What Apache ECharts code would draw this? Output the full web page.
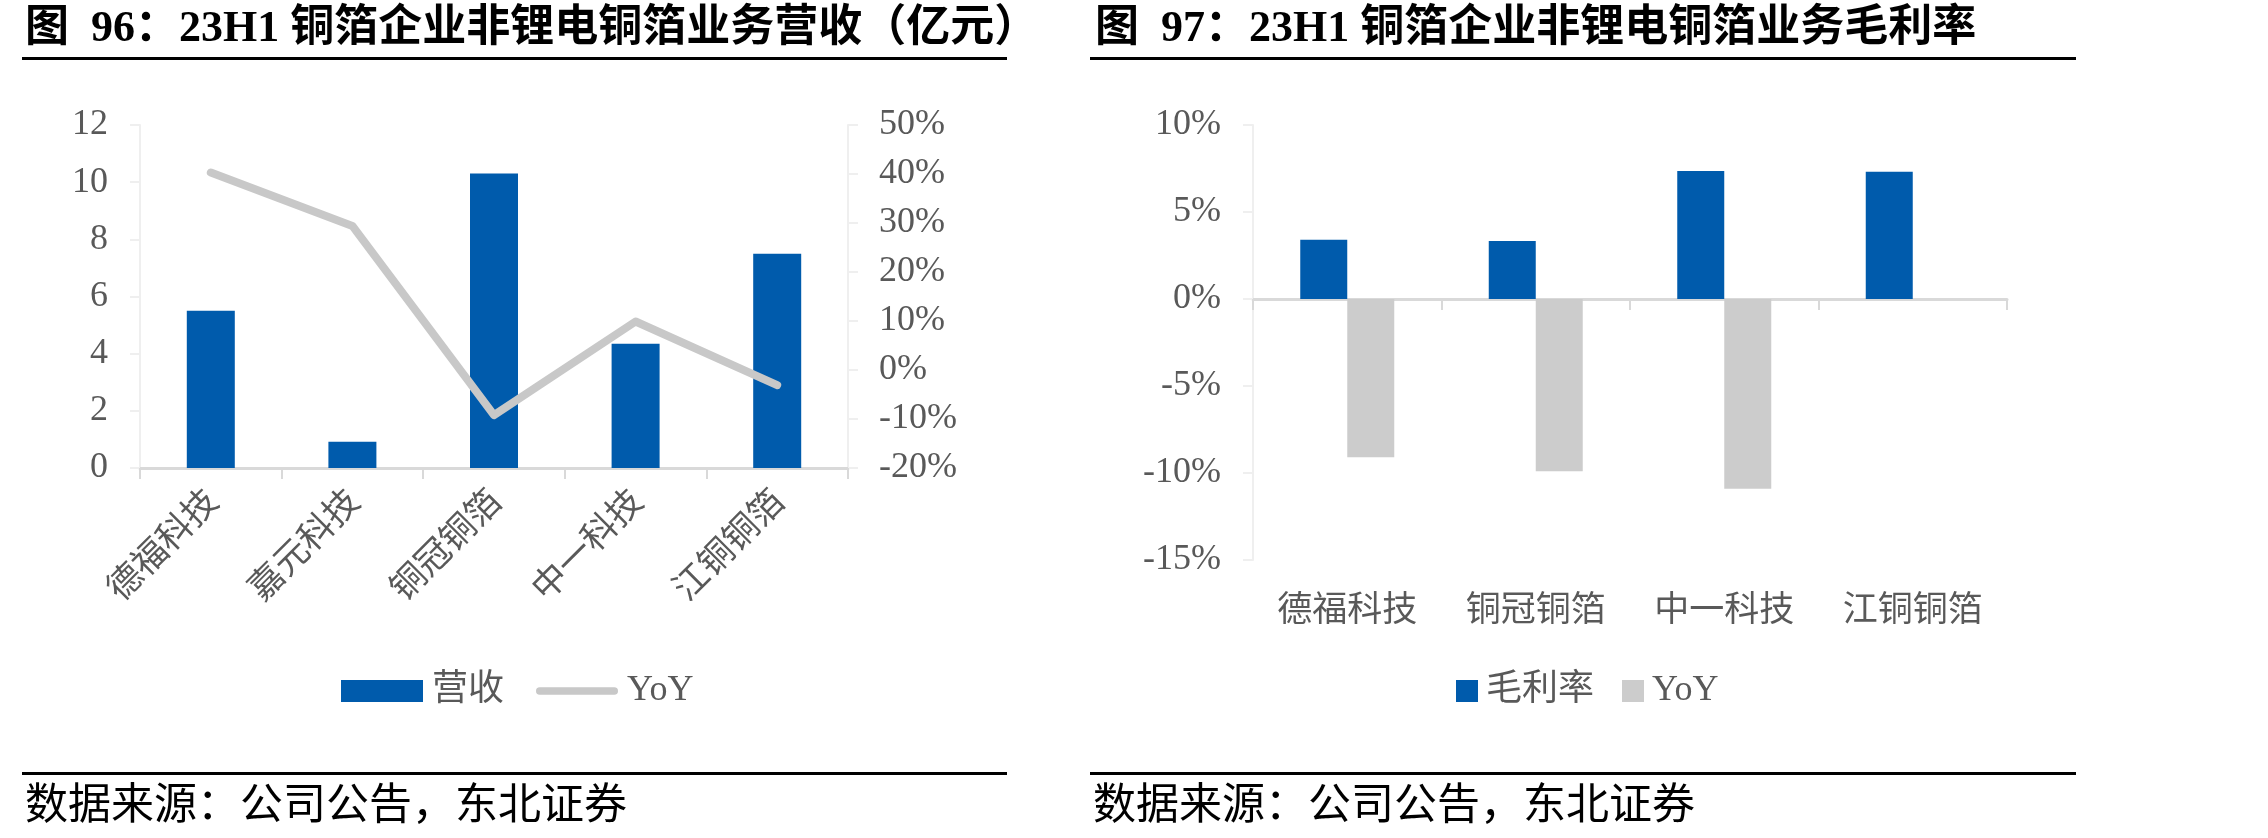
<!DOCTYPE html>
<html>
<head>
<meta charset="utf-8">
<script src="https://cdn.jsdelivr.net/npm/echarts@6/dist/echarts.min.js"></script>
<style>
  html, body { margin: 0; padding: 0; background: #fff; }
  #main { width: 2268px; height: 838px; }
</style>
</head>
<body>
<div id="main"></div>
<script>
// Fig 96: non-lithium copper foil revenue (亿元) + YoY (%)
const revCompanies = ['德福科技', '嘉元科技', '铜冠铜箔', '中一科技', '江铜铜箔'];
const revenue = [5.5, 0.92, 10.3, 4.35, 7.5];
const revenueYoY = [40.3, 29.4, -9.2, 9.9, -3.1];

// Fig 97: non-lithium copper foil gross margin (%) + YoY (pct)
const marginCompanies = ['德福科技', '铜冠铜箔', '中一科技', '江铜铜箔'];
const grossMargin = [3.4, 3.33, 7.36, 7.32];
const grossMarginYoY = [-9.1, -9.9, -10.9, null];

const titles = ['图  96：23H1 铜箔企业非锂电铜箔业务营收（亿元）', '图  97：23H1 铜箔企业非锂电铜箔业务毛利率'];
const sourceText = '数据来源：公司公告，东北证券';

const BLUE = '#005bac';
const GREY = '#cccccc';
const LABEL = '#595959';
const FONT = '"Liberation Serif", "Noto Sans CJK SC"';
const CJK = '"Noto Sans CJK SC"';

const chart = echarts.init(document.getElementById('main'), null, { renderer: 'canvas' });

const valueAxis = (gridIndex, min, max, interval, opts) => ({
  type: 'value', gridIndex, min, max, interval,
  axisLine: { show: true, lineStyle: { color: '#efefef', width: 2 } },
  axisTick: { show: true, length: 10, lineStyle: { color: '#efefef', width: 2 } },
  splitLine: { show: false },
  axisLabel: { color: LABEL, fontSize: 36, fontFamily: FONT, margin: 32 },
  ...opts,
});

const baseLine = { show: true, lineStyle: { color: '#d9d9d9', width: 3 } };
const baseTick = { show: true, length: 11, lineStyle: { color: '#d9d9d9', width: 2 } };

// rounded gray stroke for the line legend icon
const lineIcon = 'path://M4,0H84A4,4,0,0,1,84,8H4A4,4,0,0,1,4,0Z';

// titles, rules and sources drawn as plain graphics
const panels = [{ x0: 22, x1: 1007, tx: 25 }, { x0: 1090, x1: 2076, tx: 1095 }];
const graphic = [];
panels.forEach((p, i) => {
  graphic.push(
    { type: 'text', left: p.tx, top: 8,
      style: { text: titles[i], font: `bold 44px ${FONT}`, fill: '#000' } },
    { type: 'rect', shape: { x: p.x0, y: 57, width: p.x1 - p.x0, height: 3 }, style: { fill: '#000' } },
    { type: 'rect', shape: { x: p.x0, y: 772, width: p.x1 - p.x0, height: 3 }, style: { fill: '#000' } },
    { type: 'text', left: p.x0 + 3, top: 781,
      style: { text: sourceText, font: `43px ${CJK}`, fill: '#000' } },
  );
});

chart.setOption({
  animation: false,
  backgroundColor: '#fff',
  graphic,
  grid: [
    { left: 140, top: 125, width: 708, height: 343 },
    { left: 1253, top: 125, width: 754, height: 435 },
  ],
  legend: [
    {
      left: 341, top: 673, padding: 0, itemWidth: 82, itemHeight: 22, itemGap: 32,
      textStyle: { color: LABEL, fontSize: 36, fontFamily: FONT, padding: [0, 0, 0, 4] },
      data: [{ name: '营收', icon: 'rect' }, { name: 'YoY', icon: lineIcon, itemStyle: { borderWidth: 0 } }],
    },
    {
      left: 1456, top: 673, padding: 0, itemWidth: 22, itemHeight: 22, itemGap: 28,
      textStyle: { color: LABEL, fontSize: 36, fontFamily: FONT, padding: [0, 0, 0, 3] },
      formatter: (n) => n.trim(),
      data: [{ name: '毛利率', icon: 'rect' }, { name: 'YoY ', icon: 'rect' }],
    },
  ],
  xAxis: [
    {
      type: 'category', gridIndex: 0, data: revCompanies,
      axisLine: baseLine, axisTick: baseTick,
      axisLabel: { color: LABEL, fontSize: 35, fontFamily: CJK, rotate: 45, margin: 26 },
    },
    {
      type: 'category', gridIndex: 1, data: marginCompanies,
      axisLine: { ...baseLine, onZero: true }, axisTick: baseTick,
      axisLabel: { show: false },
    },
    {
      type: 'category', gridIndex: 1, data: marginCompanies, position: 'bottom',
      axisLine: { show: false, onZero: false }, axisTick: { show: false },
      axisLabel: { color: LABEL, fontSize: 35, fontFamily: CJK, margin: 30 },
    },
  ],
  yAxis: [
    valueAxis(0, 0, 12, 2),
    valueAxis(0, -20, 50, 10, { position: 'right',
      axisLabel: { color: LABEL, fontSize: 36, fontFamily: FONT, margin: 31, formatter: '{value}%' } }),
    valueAxis(1, -15, 10, 5, {
      axisLabel: { color: LABEL, fontSize: 36, fontFamily: FONT, margin: 32, formatter: '{value}%' } }),
  ],
  series: [
    {
      name: '营收', type: 'bar', xAxisIndex: 0, yAxisIndex: 0,
      barWidth: 48, itemStyle: { color: BLUE }, data: revenue,
    },
    {
      name: 'YoY', type: 'line', xAxisIndex: 0, yAxisIndex: 1,
      showSymbol: false, symbol: 'none', color: '#c8c8c8',
      lineStyle: { color: '#c8c8c8', width: 8, cap: 'round', join: 'round' },
      data: revenueYoY,
    },
    {
      name: '毛利率', type: 'bar', xAxisIndex: 1, yAxisIndex: 2,
      barWidth: 47, barGap: '0%', itemStyle: { color: BLUE }, data: grossMargin,
    },
    {
      name: 'YoY ', type: 'bar', xAxisIndex: 1, yAxisIndex: 2,
      barWidth: 47, barGap: '0%', itemStyle: { color: GREY }, data: grossMarginYoY,
    },
  ],
});
</script>
</body>
</html>
